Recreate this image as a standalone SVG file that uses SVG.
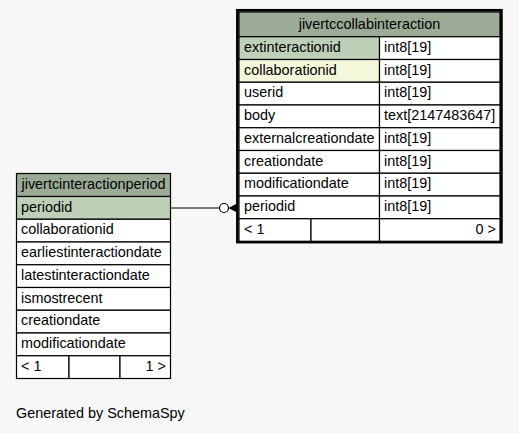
<svg xmlns="http://www.w3.org/2000/svg" width="519" height="433" viewBox="0 0 519 433">
<style>
text{font-family:"Liberation Sans",Arial,Helvetica,sans-serif;font-size:14.4px;fill:#000}
.c{stroke:#000;stroke-width:1.2}
.h{fill:#9bab96}
.pk{fill:#bed1b8}
.ix{fill:#f4f7da}
.w{fill:#ffffff}
.mid{text-anchor:middle}
.end{text-anchor:end}
</style>
<rect width="519" height="433" fill="#f7f7f7"/>
<g id="connectors">
<line x1="171" y1="208" x2="219.5" y2="208" stroke="#000" stroke-width="1"/>
<circle cx="224" cy="208" r="4.5" fill="#fff" stroke="#000" stroke-width="1.2"/>
<polygon points="228.5,208 237,203.5 237,212.5" fill="#000"/>
</g>
<g id="jivertcinteractionperiod">
<rect class="c h" x="16.5" y="173.5" width="154" height="23"/>
<text class="mid" x="93.5" y="188.5">jivertcinteractionperiod</text>
<rect class="c pk" x="16.5" y="196.5" width="154" height="22.75"/>
<text x="21" y="211.5">periodid</text>
<rect class="c w" x="16.5" y="219.25" width="154" height="22.75"/>
<text x="21" y="234.2">collaborationid</text>
<rect class="c w" x="16.5" y="242" width="154" height="22.75"/>
<text x="21" y="257">earliestinteractiondate</text>
<rect class="c w" x="16.5" y="264.75" width="154" height="22.75"/>
<text x="21" y="279.7">latestinteractiondate</text>
<rect class="c w" x="16.5" y="287.5" width="154" height="22.75"/>
<text x="21" y="302.5">ismostrecent</text>
<rect class="c w" x="16.5" y="310.25" width="154" height="22.75"/>
<text x="21" y="325.2">creationdate</text>
<rect class="c w" x="16.5" y="333" width="154" height="22.75"/>
<text x="21" y="348">modificationdate</text>
<rect class="c w" x="16.5" y="355.75" width="52.5" height="22.75"/>
<rect class="c w" x="69" y="355.75" width="51" height="22.75"/>
<rect class="c w" x="120" y="355.75" width="50.5" height="22.75"/>
<text x="21" y="370.7">&lt; 1</text>
<text class="end" x="166" y="370.7">1 &gt;</text>
</g>
<g id="jivertccollabinteraction">
<rect class="c h" x="239" y="12" width="261" height="24.75"/>
<text class="mid" x="369.5" y="28.7">jivertccollabinteraction</text>
<rect class="c pk" x="239" y="36.75" width="140.5" height="22.75"/>
<rect class="c w" x="379.5" y="36.75" width="120.5" height="22.75"/>
<text x="244" y="52">extinteractionid</text>
<text x="384" y="52">int8[19]</text>
<rect class="c ix" x="239" y="59.5" width="140.5" height="22.75"/>
<rect class="c w" x="379.5" y="59.5" width="120.5" height="22.75"/>
<text x="244" y="74.7">collaborationid</text>
<text x="384" y="74.7">int8[19]</text>
<rect class="c w" x="239" y="82.25" width="140.5" height="22.75"/>
<rect class="c w" x="379.5" y="82.25" width="120.5" height="22.75"/>
<text x="244" y="97.4">userid</text>
<text x="384" y="97.4">int8[19]</text>
<rect class="c w" x="239" y="105" width="140.5" height="22.75"/>
<rect class="c w" x="379.5" y="105" width="120.5" height="22.75"/>
<text x="244" y="120.2">body</text>
<text x="384" y="120.2">text[2147483647]</text>
<rect class="c w" x="239" y="127.75" width="140.5" height="22.75"/>
<rect class="c w" x="379.5" y="127.75" width="120.5" height="22.75"/>
<text x="244" y="142.9">externalcreationdate</text>
<text x="384" y="142.9">int8[19]</text>
<rect class="c w" x="239" y="150.5" width="140.5" height="22.75"/>
<rect class="c w" x="379.5" y="150.5" width="120.5" height="22.75"/>
<text x="244" y="165.7">creationdate</text>
<text x="384" y="165.7">int8[19]</text>
<rect class="c w" x="239" y="173.25" width="140.5" height="22.75"/>
<rect class="c w" x="379.5" y="173.25" width="120.5" height="22.75"/>
<text x="244" y="188.4">modificationdate</text>
<text x="384" y="188.4">int8[19]</text>
<rect class="c w" x="239" y="196" width="140.5" height="22.75"/>
<rect class="c w" x="379.5" y="196" width="120.5" height="22.75"/>
<text x="244" y="211.2">periodid</text>
<text x="384" y="211.2">int8[19]</text>
<rect class="c w" x="239" y="218.75" width="72" height="22.75"/>
<rect class="c w" x="311" y="218.75" width="68.5" height="22.75"/>
<rect class="c w" x="379.5" y="218.75" width="120.5" height="22.75"/>
<text x="244" y="233.9">&lt; 1</text>
<text class="end" x="496" y="233.9">0 &gt;</text>
<rect x="237.4" y="10.3" width="264" height="231.8" fill="none" stroke="#000" stroke-width="2.7"/>
</g>
<text x="16" y="418">Generated by SchemaSpy</text>
</svg>
